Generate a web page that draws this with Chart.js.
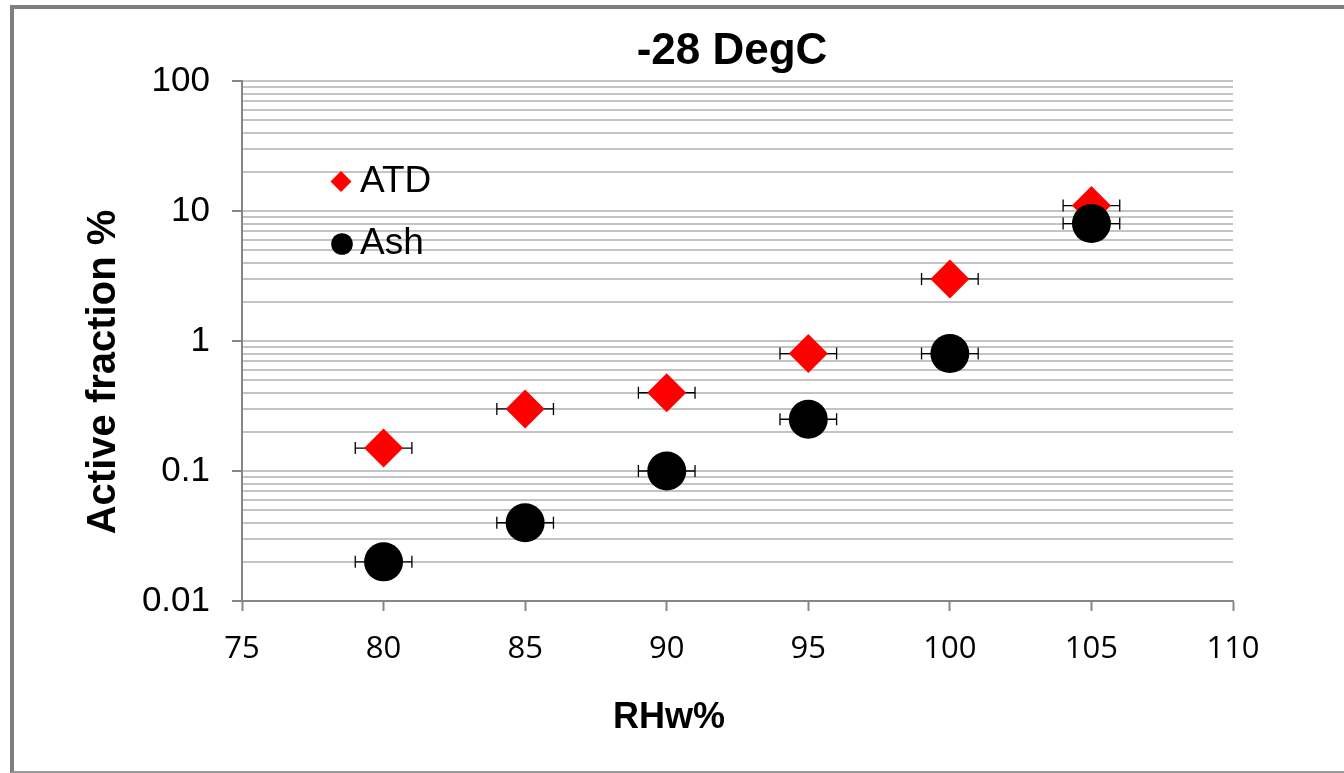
<!DOCTYPE html>
<html>
<head>
<meta charset="utf-8">
<title>-28 DegC</title>
<script src="https://cdn.jsdelivr.net/npm/chart.js@4/dist/chart.umd.min.js"></script>
<style>
    html, body { margin: 0; padding: 0; background: #fff; overflow: hidden; }
    .wrap { position: relative; width: 1344px; height: 773px; }
    .frame {
        position: absolute; left: 10px; top: 5px; width: 1400px; height: 762px;
        border-left: 4px solid #7f7f7f; border-top: 4px solid #7f7f7f;
        border-bottom: 2px solid #9a9a9a; pointer-events: none;
    }
</style>
</head>
<body>
<div class="wrap">
    <canvas id="rhChart" width="1344" height="773"></canvas>
    <div class="frame"></div>
</div>
<script>
// RH over water (%) and active fraction (%) per sample type
const rhw = [80, 85, 90, 95, 100, 105];
const rhwErr = [1, 1, 1, 1, 1, 1];
const atdFraction = [0.15, 0.3, 0.4, 0.8, 3, 11];
const ashFraction = [0.02, 0.04, 0.1, 0.25, 0.8, 8];

const xMin = 75, xMax = 110, xStep = 5;
const yDecades = [0.01, 0.1, 1, 10, 100];
const yMultipliers = [1, 2, 3, 4, 5, 6, 7, 8, 9];

const AXIS_GRAY = '#868686';
const GRID_GRAY = '#c4c4c4';

// every 1..9 x 10^n line, labels only on the decades
const yTicks = [];
yDecades.forEach((d, i) => {
    if (i === yDecades.length - 1) { yTicks.push(d); return; }
    yMultipliers.forEach(m => yTicks.push(+(d * m).toPrecision(3)));
});

function isDecade(v) {
    return yDecades.some(d => Math.abs(d - v) < d * 1e-6);
}

function toPoints(xs, ys) {
    return xs.map((x, i) => ({ x: x, y: ys[i], err: rhwErr[i] }));
}

// horizontal error bars with end caps, under the markers
const errorBars = {
    id: 'errorBars',
    beforeDatasetsDraw(chart) {
        const ctx = chart.ctx;
        const xs = chart.scales.x, ys = chart.scales.y;
        ctx.save();
        ctx.strokeStyle = '#000';
        ctx.lineWidth = 1.3;
        chart.data.datasets.forEach(ds => {
            ds.data.forEach(p => {
                const y = ys.getPixelForValue(p.y);
                const x0 = xs.getPixelForValue(p.x - p.err);
                const x1 = xs.getPixelForValue(p.x + p.err);
                ctx.beginPath();
                ctx.moveTo(x0, y); ctx.lineTo(x1, y);
                ctx.moveTo(x0, y - 6); ctx.lineTo(x0, y + 6);
                ctx.moveTo(x1, y - 6); ctx.lineTo(x1, y + 6);
                ctx.stroke();
            });
        });
        ctx.restore();
    }
};

// title, axis titles and the in-plot legend
const labelsPlugin = {
    id: 'labels',
    afterDraw(chart) {
        const ctx = chart.ctx;
        ctx.save();
        ctx.fillStyle = '#000';
        ctx.textAlign = 'center';
        ctx.textBaseline = 'middle';

        ctx.font = 'bold 44px "Liberation Sans", Arial, sans-serif';
        ctx.fillText('-28 DegC', 732, 52);

        ctx.font = 'bold 36px "Liberation Sans", Arial, sans-serif';
        ctx.fillText('RHw%', 669, 718);

        ctx.save();
        ctx.translate(104, 372);
        ctx.rotate(-Math.PI / 2);
        ctx.font = 'bold 40px "Liberation Sans", Arial, sans-serif';
        ctx.fillText('Active fraction %', 0, 0);
        ctx.restore();

        // legend
        ctx.fillStyle = '#ff0000';
        ctx.beginPath();
        ctx.moveTo(341, 171); ctx.lineTo(351.5, 181.5);
        ctx.lineTo(341, 192); ctx.lineTo(330.5, 181.5);
        ctx.closePath();
        ctx.fill();

        ctx.fillStyle = '#000';
        ctx.beginPath();
        ctx.arc(342, 244, 10.8, 0, Math.PI * 2);
        ctx.fill();

        ctx.textAlign = 'left';
        ctx.font = '37px "Liberation Sans", Arial, sans-serif';
        ctx.fillText('ATD', 360, 182);
        ctx.fillText('Ash', 360, 244);
        ctx.restore();
    }
};

const ctx = document.getElementById('rhChart').getContext('2d');

new Chart(ctx, {
    type: 'scatter',
    data: {
        datasets: [{
            label: 'ATD',
            data: toPoints(rhw, atdFraction),
            pointStyle: 'rectRot',
            pointRadius: 19.5,
            pointHoverRadius: 19.5,
            backgroundColor: '#ff0000',
            borderWidth: 0,
            order: 2
        }, {
            label: 'Ash',
            data: toPoints(rhw, ashFraction),
            pointStyle: 'circle',
            pointRadius: 19.5,
            pointHoverRadius: 19.5,
            backgroundColor: '#000',
            borderWidth: 0,
            order: 1
        }]
    },
    options: {
        responsive: false,
        animation: false,
        events: [],
        layout: { padding: { left: 0, right: 111, top: 81, bottom: 0 } },
        plugins: {
            legend: { display: false },
            title: { display: false },
            tooltip: { enabled: false }
        },
        scales: {
            x: {
                type: 'linear',
                min: xMin,
                max: xMax,
                ticks: {
                    stepSize: xStep,
                    color: '#000',
                    padding: 20,
                    font: { family: '"Open Sans", sans-serif', size: 31 }
                },
                grid: {
                    drawOnChartArea: false,
                    tickLength: 10,
                    tickColor: AXIS_GRAY,
                    tickWidth: 2
                },
                border: { color: AXIS_GRAY, width: 2 },
                afterFit(scale) { scale.height = 172; }
            },
            y: {
                type: 'logarithmic',
                min: yDecades[0],
                max: yDecades[yDecades.length - 1],
                afterBuildTicks(scale) {
                    scale.ticks = yTicks.map(v => ({ value: v, major: isDecade(v) }));
                },
                ticks: {
                    autoSkip: false,
                    color: '#000',
                    padding: 22,
                    font: { family: '"Liberation Sans", Arial, sans-serif', size: 35 },
                    callback: function (value) {
                        if (!isDecade(value)) return '';
                        return value >= 1 ? String(Math.round(value)) : String(value);
                    }
                },
                grid: {
                    color: GRID_GRAY,
                    lineWidth: 2,
                    tickLength: 10,
                    tickWidth: 2,
                    tickColor: c => (c.tick && isDecade(c.tick.value)) ? AXIS_GRAY : 'rgba(0,0,0,0)'
                },
                border: { color: AXIS_GRAY, width: 2 },
                afterFit(scale) { scale.width = 242; }
            }
        }
    },
    plugins: [errorBars, labelsPlugin]
});
</script>
</body>
</html>
